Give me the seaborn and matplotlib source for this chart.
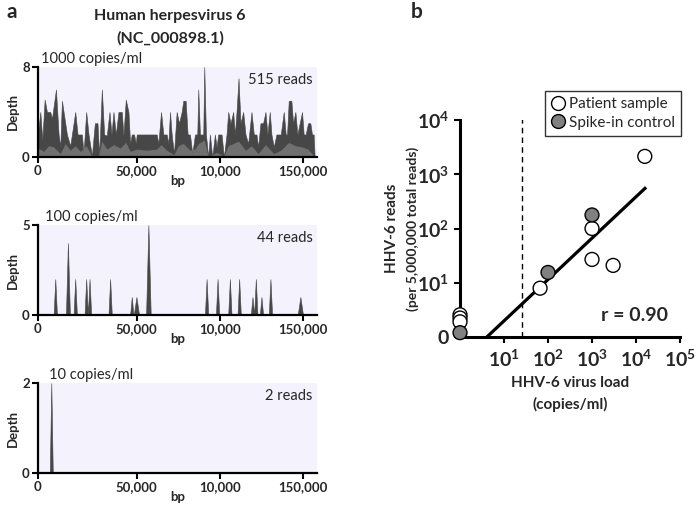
import numpy as np
import pandas as pd
import matplotlib
matplotlib.use('Agg')
import matplotlib.pyplot as plt
from matplotlib.lines import Line2D
import seaborn as sns

# ---------------- panel a: read depth along the HHV-6 genome ----------------
# 1000 copies/ml, outer (dark) profile
cov1000_bp = [-9400, -8000, -6800, -5400, -4000, -2000, -1000, 1400, 3000, 4000,
              5000, 7000, 8000, 10000, 11000, 13000, 14400, 17000, 18000, 19600,
              21000, 23000, 24800, 26400, 27400, 29000, 30400, 32000, 33600, 34800,
              36000, 37400, 39000, 41000, 42000, 43400, 45000, 46000, 47000, 48400,
              49400, 50000, 62000, 63000, 64600, 66000, 68000, 69000, 70000, 71000,
              72400, 74000, 75400, 77000, 78000, 79400, 80600, 82000, 83400, 85000,
              86400, 87000, 88000, 89000, 90000, 90600, 91600, 93000, 94000, 95400,
              97000, 98000, 99000, 101000, 102400, 104000, 105000, 106400, 108000, 109000,
              110000, 111200, 112400, 114000, 115400, 117000, 119000, 120400, 122000, 123000,
              124400, 126000, 127400, 128600, 130000, 131000, 132400, 134000, 136600, 138400,
              139600, 140400, 141400, 143000, 144000, 145400, 146600, 148000, 149400, 150400,
              151600, 153000, 154400, 155400, 156400, 157000]
cov1000_depth = [2.1, 4.0, 1.5, 5.1, 4.0, 4.0, 3.4, 6.0, 2.0, 0.9,
                 5.0, 3.0, 2.0, 1.0, 2.0, 4.0, 2.0, 2.0, 0.3, 4.0,
                 2.0, 0.1, 3.0, 3.0, 0.1, 6.0, 2.0, 1.9, 4.0, 2.0,
                 4.0, 2.0, 4.0, 4.0, 1.9, 5.1, 4.0, 1.2, 2.0, 2.0,
                 1.2, 2.0, 2.0, 1.2, 4.0, 2.0, 2.0, 1.2, 4.0, 2.0,
                 0.3, 4.0, 3.0, 4.0, 5.0, 5.0, 2.0, 2.0, 0.3, 2.0,
                 2.0, 6.0, 2.0, 2.0, 2.0, 8.0, 2.0, 0.0, 2.0, 0.0,
                 2.0, 0.9, 2.0, 2.0, 0.0, 2.0, 4.0, 3.0, 4.0, 2.0,
                 4.0, 7.0, 3.0, 4.0, 2.0, 1.2, 4.0, 2.0, 2.0, 0.9,
                 3.0, 3.0, 4.0, 2.0, 4.0, 2.0, 0.9, 2.0, 2.0, 4.0,
                 2.0, 2.0, 5.0, 5.0, 3.0, 4.0, 2.0, 3.0, 4.0, 2.0,
                 2.0, 3.0, 3.0, 2.0, 2.0, 0.0]
# 1000 copies/ml, inner (lighter) profile
inner1000_bp = [-9400, -6000, -3000, 0, 4000, 7000, 10000, 13000, 16000, 19600,
                23000, 27000, 29000, 32000, 36000, 40000, 43400, 46000, 50000, 56000,
                62000, 64600, 68000, 72400, 75000, 78000, 82000, 85000, 87000, 90600,
                93000, 95400, 98000, 102400, 105000, 111200, 115400, 119000, 123000, 127400,
                132400, 136600, 141400, 145400, 149400, 153000, 157000]
inner1000_depth = [0.8, 0.5, 1.0, 0.9, 0.3, 1.2, 0.6, 1.0, 0.5, 1.0,
                   0.1, 0.1, 1.4, 0.7, 1.1, 0.8, 1.3, 0.5, 0.7, 0.6,
                   0.7, 1.1, 0.6, 0.2, 1.0, 1.2, 0.6, 0.7, 1.2, 1.5,
                   0.1, 0.2, 0.4, 0.1, 1.0, 1.4, 0.6, 1.0, 0.3, 1.1,
                   0.3, 0.6, 1.3, 1.0, 0.9, 0.7, 0.0]

# 100 copies/ml: isolated read stacks
peaks100_bp = [1000, 8600, 13000, 19600, 21600, 34000, 47000, 49800, 57000, 92000,
               98600, 106000, 111600, 119600, 121600, 125000, 130400, 148400]
peaks100_depth = [2, 4, 2, 2, 2, 2, 1, 1, 5, 2, 2, 2, 2, 1, 2, 1, 2, 1]
peaks100_halfwidth = [1000, 1200, 1000, 1000, 1000, 1000, 1000, 1600, 1400, 1000,
                      1000, 1000, 1000, 1000, 1000, 1000, 1000, 1600]

# 10 copies/ml
peaks10_bp = [-1400]
peaks10_depth = [2]
peaks10_halfwidth = [900]

conc_labels = ['1000 copies/ml', '100 copies/ml', '10 copies/ml']
read_labels = ['515 reads', '44 reads', '2 reads']
depth_max = [8, 5, 2]
bp_left, bp_right = -9400, 158400
bp_ticks = [bp_left, 50000, 100000, 150000]
bp_ticklabels = ['0', '50,000', '10,000', '150,000']

# ---------------- panel b: reads vs virus load (log10 units, 0 = none) ----------------
patient_load = [4.2, 3.0, 3.0, 3.48, 1.82, 0, 0, 0]
patient_reads = [3.33, 2.0, 1.43, 1.32, 0.9, 0.41, 0.35, 0.28]
spike_load = [3.0, 2.0, 0]
spike_reads = [2.25, 1.19, 0.08]
fit_load = [0.61, 4.23]
fit_reads = [0.0, 2.76]
lod_load = 1.42
r_value = 0.90

sns.set_theme(style='ticks')
plt.rcParams['font.family'] = ['Lato', 'DejaVu Sans']
plt.rcParams['mathtext.fontset'] = 'custom'
plt.rcParams['mathtext.rm'] = 'Lato'
plt.rcParams['mathtext.bf'] = 'Lato:bold'

dark = '#474747'
light = '#707070'
bg = '#f3f2fd'

fig = plt.figure(figsize=(6.97, 5.09), dpi=100)


def peak_profile(centres, heights, halfw):
    xs, ys = [bp_left], [0]
    for c, h, w in sorted(zip(centres, heights, halfw)):
        xs += [c - w, c, c + w]
        ys += [0, h, 0]
    xs.append(bp_right)
    ys.append(0)
    return np.array(xs), np.array(ys)


axes_a = [fig.add_axes([0.0545, b, 0.4003, 0.1768]) for b in (0.6916, 0.3811, 0.0707)]
profiles = [
    (np.array(cov1000_bp), np.array(cov1000_depth)),
    peak_profile(peaks100_bp, peaks100_depth, peaks100_halfwidth),
    peak_profile(peaks10_bp, peaks10_depth, peaks10_halfwidth),
]
conc_x = [0.01, 0.025, 0.04]

for i, ax in enumerate(axes_a):
    ax.set_facecolor(bg)
    xs, ys = profiles[i]
    outer = ax.fill_between(xs, 0, ys, color=dark, lw=0.4, edgecolor=dark)
    if i == 0:
        inner = ax.fill_between(inner1000_bp, 0, inner1000_depth, color=light, lw=0)
        inner.set_clip_path(outer.get_paths()[0], transform=ax.transData)
    ax.set_xlim(bp_left, bp_right)
    ax.set_ylim(0, depth_max[i])
    ax.set_yticks([0, depth_max[i]])
    ax.set_xticks(bp_ticks)
    ax.set_xticklabels(bp_ticklabels)
    for lab in ax.get_xticklabels() + ax.get_yticklabels():
        lab.set_fontweight('bold')
        lab.set_fontsize(9.5)
    ax.tick_params(axis='both', length=4, width=1.5, pad=2, color='black')
    sns.despine(ax=ax)
    for s in ('left', 'bottom'):
        ax.spines[s].set_linewidth(1.6)
        ax.spines[s].set_color('black')
    ax.set_xlabel('bp', fontweight='bold', fontsize=9.5, labelpad=-2)
    ax.set_ylabel('Depth', fontweight='bold', fontsize=9.5, labelpad=2)
    ax.text(conc_x[i], 1.01, conc_labels[i], transform=ax.transAxes,
            ha='left', va='bottom', fontsize=10.5)
    ax.text(0.985, 0.86, read_labels[i], transform=ax.transAxes,
            ha='right', va='center', fontsize=10.5)

fig.text(170 / 697, 1 - 16 / 509, 'Human herpesvirus 6', ha='center', va='center',
         fontsize=11.5, fontweight='bold')
fig.text(170 / 697, 1 - 38 / 509, '(NC_000898.1)', ha='center', va='center',
         fontsize=11.5, fontweight='bold')
fig.text(12 / 697, 1 - 12 / 509, 'a', ha='center', va='center', fontsize=15, fontweight='bold')
fig.text(417 / 697, 1 - 12 / 509, 'b', ha='center', va='center', fontsize=15, fontweight='bold')

# ---------------- panel b ----------------
axb = fig.add_axes([0.66, 0.3379, 0.3156, 0.4263])
df = pd.DataFrame({
    'load': patient_load + spike_load,
    'reads': patient_reads + spike_reads,
    'group': ['Patient sample'] * len(patient_load) + ['Spike-in control'] * len(spike_load),
})
axb.plot(fit_load, fit_reads, color='black', lw=2.3, solid_capstyle='butt', zorder=2)
axb.plot([lod_load, lod_load], [0, 4.05], color='black', lw=1.0, ls=(0, (4, 3)), zorder=1)
sns.scatterplot(data=df, x='load', y='reads', hue='group',
                palette={'Patient sample': 'white', 'Spike-in control': '#808080'},
                edgecolor='black', linewidth=1.0, s=100, legend=False, ax=axb,
                zorder=3, clip_on=False)
axb.set_xlim(0, 5)
axb.set_ylim(0, 4)
axb.set_xticks([1, 2, 3, 4, 5])
axb.set_xticklabels([r'$\mathbf{10^{%d}}$' % k for k in range(1, 6)])
axb.set_yticks([0, 1, 2, 3, 4])
axb.set_yticklabels(['0'] + [r'$\mathbf{10^{%d}}$' % k for k in range(1, 5)])
for lab in axb.get_xticklabels() + axb.get_yticklabels():
    lab.set_fontweight('bold')
    lab.set_fontsize(14)
axb.tick_params(axis='both', length=4, width=1.5, pad=4, color='black')
sns.despine(ax=axb)
for s in ('left', 'bottom'):
    axb.spines[s].set_linewidth(2.2)
    axb.spines[s].set_color('black')
axb.set_xlabel('')
axb.set_ylabel('')
axb.text(-0.31, 0.5, 'HHV-6 reads', transform=axb.transAxes, rotation=90,
         ha='center', va='center', fontsize=11, fontweight='bold')
axb.text(-0.215, 0.5, '(per 5,000,000 total reads)', transform=axb.transAxes, rotation=90,
         ha='center', va='center', fontsize=10, fontweight='bold')
axb.text(0.5, -0.212, 'HHV-6 virus load', transform=axb.transAxes,
         ha='center', va='center', fontsize=11, fontweight='bold')
axb.text(0.5, -0.313, '(copies/ml)', transform=axb.transAxes,
         ha='center', va='center', fontsize=11, fontweight='bold')
axb.text(0.795, 0.10, 'r = %.2f' % r_value, transform=axb.transAxes,
         ha='center', va='center', fontsize=14, fontweight='bold')

handles = [
    Line2D([], [], marker='o', ls='', markersize=10, markerfacecolor='white',
           markeredgecolor='black', markeredgewidth=1.0, label='Patient sample'),
    Line2D([], [], marker='o', ls='', markersize=10, markerfacecolor='#808080',
           markeredgecolor='black', markeredgewidth=1.0, label='Spike-in control'),
]
leg = axb.legend(handles=handles, loc='upper right', bbox_to_anchor=(1.005, 1.134),
                 frameon=True, fancybox=False, edgecolor='black', fontsize=11,
                 handletextpad=0.2, borderpad=0.4, labelspacing=0.3,
                 handlelength=1.0, borderaxespad=0)
leg.get_frame().set_linewidth(1.0)

fig.savefig('out.png', dpi=100)
